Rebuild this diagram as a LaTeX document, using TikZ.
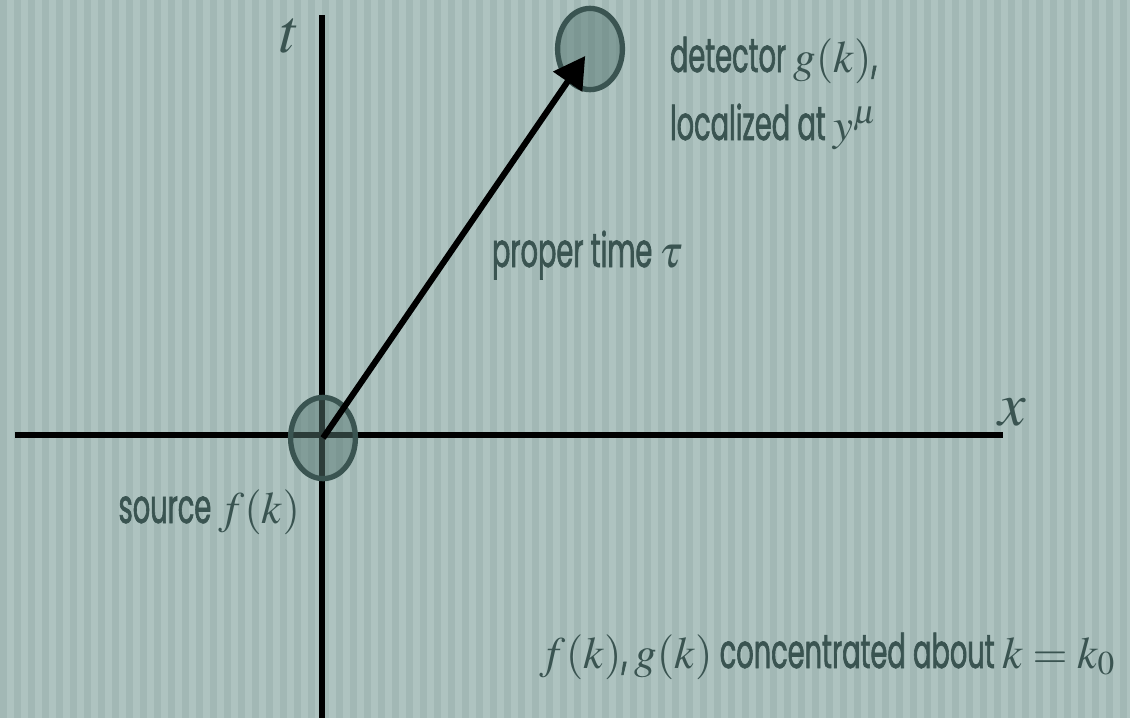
\documentclass[tikz,border=0pt]{standalone}
\usepackage{mathptmx}
\usepackage{fontspec}
\setmainfont{Poppins}[FakeStretch=0.57, FakeBold=1.3]
\usetikzlibrary{arrows.meta,shapes.geometric}
\definecolor{slidebg}{HTML}{AEC3C0}
\definecolor{slidestripe}{HTML}{A2B8B5}
\definecolor{slideink}{HTML}{3A5451}
\definecolor{blobfill}{HTML}{587873}
\newcommand{\mth}[1]{{\fontsize{32}{38}\selectfont$#1$}}

\begin{document}
\begin{tikzpicture}[
  x=0.025cm,
  y=-0.025cm,
  every node/.style={font=\fontsize{34}{40}\selectfont, slideink},
  axis/.style={black, line width=4.3pt},
  worldline/.style={black, line width=4.3pt,
                    -{Triangle[length=0.78cm, width=0.85cm]}},
  blob/.style={ellipse, draw=slideink, line width=3.8pt,
               fill=blobfill, fill opacity=0.5,
               minimum width=1.62cm, minimum height=2.03cm, inner sep=0pt},
  axislabel/.style={font=\fontsize{44}{44}\selectfont}
]
  %% ---- background ----------------------------------------------------------
  \useasboundingbox (0,0) rectangle (1130,718);
  \fill[slidebg] (0,0) rectangle (1130,718);
  \foreach \s in {0,14,...,1130}
    \fill[slidestripe] (\s,0) rectangle ++(7,718);

  %% ---- axes ----------------------------------------------------------------
  \coordinate (tbot) at (322,718);
  \coordinate (ttop) at (322,15);
  \coordinate (xleft) at (15,435);
  \coordinate (xright) at (1003,435);
  \draw[axis] (tbot) -- (ttop);
  \draw[axis] (xleft) -- (xright);
  \node[axislabel, anchor=base] (tlab) at (290,52) {$t$};
  \node[axislabel, anchor=base] (xlab) at (1012,425) {$x$};

  %% ---- source and detector -------------------------------------------------
  \node[blob] (src) at (323,438) {};
  \node[blob] (det) at (590,49) {};
  \draw[worldline, shorten >=6pt] (src.center) -- (det.center);

  %% ---- labels --------------------------------------------------------------
  \node[anchor=base west] (detlab) at (665,72) {detector \mth{g(k)},};
  \node[anchor=base west] (loclab) at (665,140) {localized at \mth{y^\mu}};
  \node[anchor=base west] (taulab) at (487,267) {proper time \mth{\tau}};
  \node[anchor=base east] (srclab) at (305,523) {source \mth{f(k)}};
  \node[anchor=base east] (conclab) at (1120,668)
    {\mth{f(k)}, \mth{g(k)} concentrated about \mth{k=k_0}};
\end{tikzpicture}
\end{document}
